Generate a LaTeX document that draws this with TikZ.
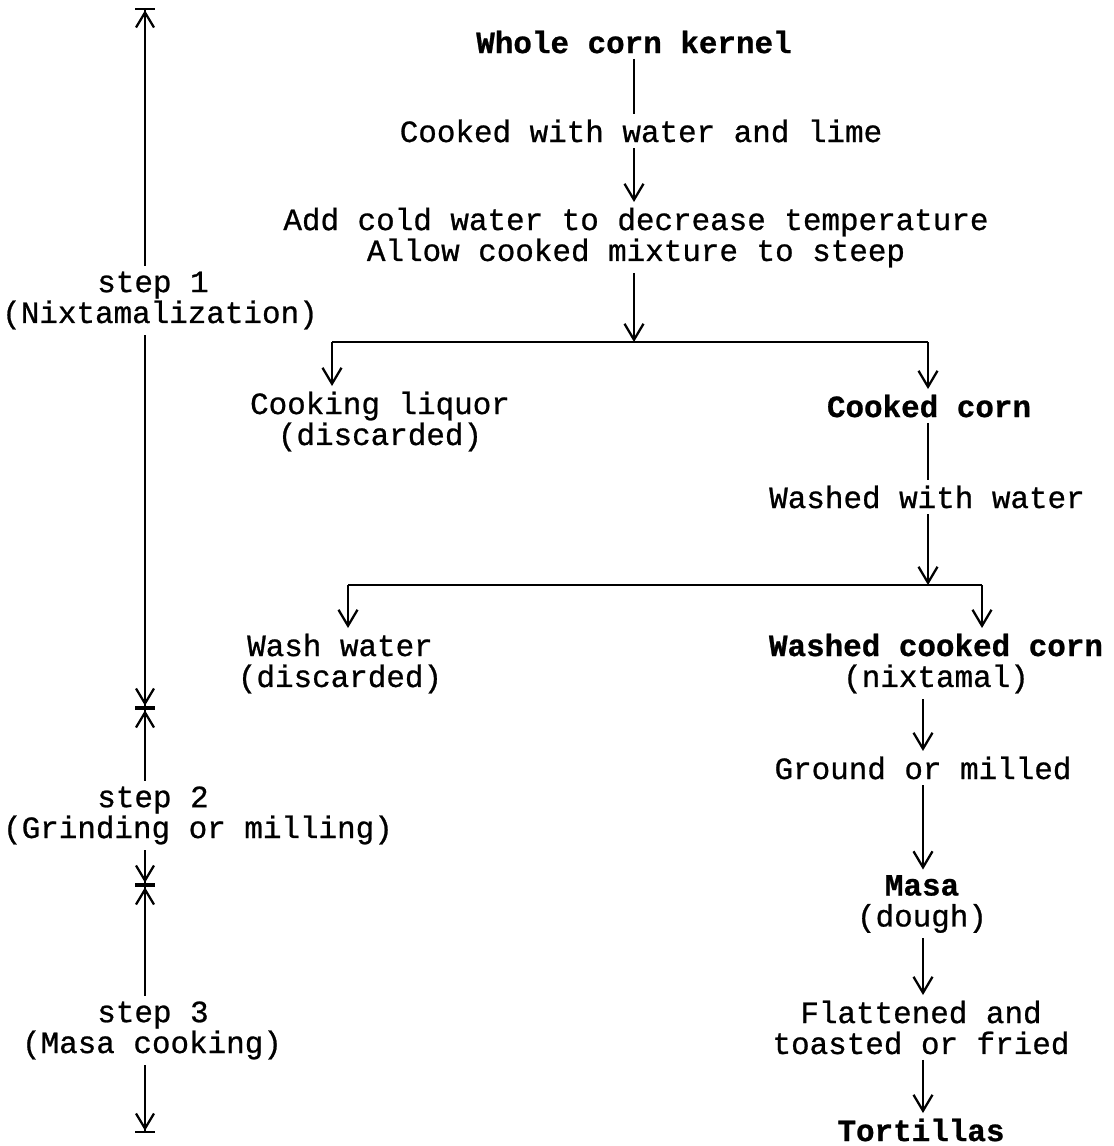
\documentclass[tikz,border=0pt]{standalone}
\usepackage{fontspec}
\newfontfamily\courier[FakeBold=0.8]{Liberation Mono}
\usepackage{tikz}
\usetikzlibrary{arrows.meta, positioning}
\tikzset{
  txt/.style={font=\courier\fontsize{17.6pt}{17.6pt}\selectfont, inner sep=3pt, align=center},
  key/.style={txt, font=\courier\bfseries\fontsize{17.6pt}{17.6pt}\selectfont},
  flow/.style={line width=1.3pt},
  stepend/.style={line width=1.3pt, -{Straight Barb[length=3mm,width=3.6mm,line width=1.3pt]Bar[width=4mm,line width=1.3pt]}}
}

\begin{document}
\begin{tikzpicture}[x=0.02cm, y=-0.02cm, >={Straight Barb[length=3.2mm,width=3.8mm,line width=1.3pt]}]
\useasboundingbox (0,0) rectangle (1113,1146);
\node[key] (kernel) at (634,42) {Whole corn kernel};
\node[txt] (cook) at (641,131) {Cooked with water and lime};
\node[txt] (steep) at (636,237.5) {Add cold water to decrease temperature\\Allow cooked mixture to steep};
\coordinate (split1) at (634,342);
\coordinate (b1l) at (332,342);
\coordinate (b1r) at (928,342);
\node[txt] (liquor) at (380,421.5) {Cooking liquor\\(discarded)};
\node[key] (corn) at (929,406) {Cooked corn};
\node[txt] (washed) at (927,497) {Washed with water};
\coordinate (split2) at (928,585);
\coordinate (b2l) at (348,585);
\coordinate (b2r) at (982,585);
\node[txt] (wash) at (340,663.5) {Wash water\\(discarded)};
\node[txt] (wcc) at (936,663.5) {\bfseries Washed cooked corn\\(nixtamal)};
\node[txt] (ground) at (923,768) {Ground or milled};
\node[txt] (masa) at (922,904) {\bfseries Masa\\(dough)};
\node[txt] (flat) at (921,1027.5) {Flattened and\\toasted or fried};
\node[key] (tort) at (921,1130) {Tortillas};

\draw[flow] (kernel) -- (kernel |- cook.north);
\draw[flow, ->] (kernel |- cook.south) -- (kernel |- steep.north);
\draw[flow, ->] (kernel |- steep.south) -- (split1);
\draw[flow] (b1l) -- (b1r);
\draw[flow, ->] (b1l) -- (b1l |- liquor.north);
\draw[flow, ->] (b1r) -- (b1r |- corn.north);
\draw[flow] (b1r |- corn.south) -- (b1r |- washed.north);
\draw[flow, ->] (b1r |- washed.south) -- (split2);
\draw[flow] (b2l) -- (b2r);
\draw[flow, ->] (b2l) -- (b2l |- wash.north);
\draw[flow, ->] (b2r) -- (b2r |- wcc.north);
\draw[flow, ->] (wcc.south -| ground) -- (ground);
\draw[flow, ->] (ground) -- (ground |- masa.north);
\draw[flow, ->] (ground |- masa.south) -- (ground |- flat.north);
\draw[flow, ->] (ground |- flat.south) -- (ground |- tort.north);

\node[txt] (s1) at (153,285) {step 1};
\node[txt] (n1) at (160,315) {(Nixtamalization)};
\node[txt] (s2) at (153,800) {step 2};
\node[txt] (n2) at (198,830) {(Grinding or milling)};
\node[txt] (s3) at (153,1015) {step 3};
\node[txt] (n3) at (152,1045) {(Masa cooking)};
\coordinate (t0) at (145,8);
\coordinate (t1) at (145,708);
\coordinate (t2) at (145,885);
\coordinate (t3) at (145,1133);
\draw[stepend] (s1.north -| t0) -- (t0);
\draw[stepend] (n1.south -| t0) -- (t1);
\draw[stepend] (s2.north -| t0) -- (t1);
\draw[stepend] (n2.south -| t0) -- (t2);
\draw[stepend] (s3.north -| t0) -- (t2);
\draw[stepend] (n3.south -| t0) -- (t3);
\end{tikzpicture}
\end{document}
